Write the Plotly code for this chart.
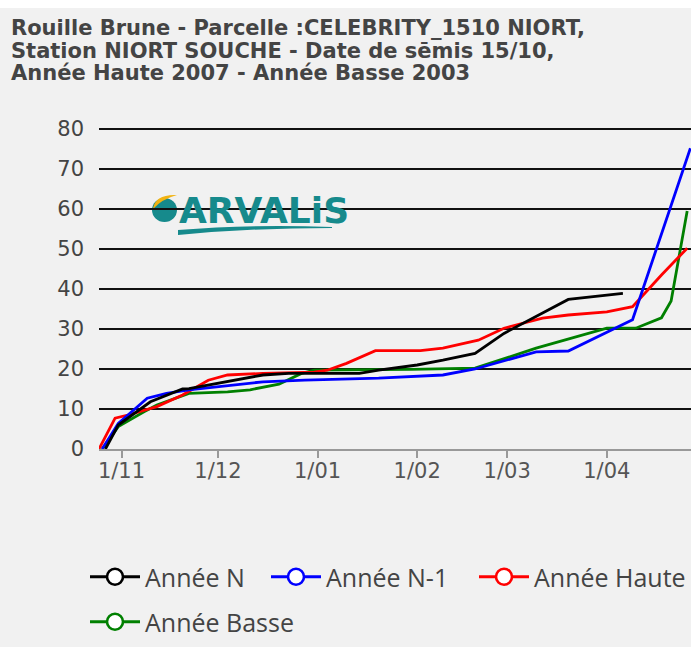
import plotly.graph_objects as go

# ---------------- data ----------------
series_names = ["Année N", "Année N-1", "Année Haute", "Année Basse"]
series_colors = ["#000000", "#0000ff", "#ff0000", "#008000"]

n_dates = ["2022-10-27", "2022-10-31", "2022-11-10", "2022-11-20", "2022-11-22", "2022-12-02",
           "2022-12-15", "2022-12-23", "2023-01-14", "2023-01-20", "2023-02-01", "2023-02-09",
           "2023-02-19", "2023-02-28", "2023-03-20", "2023-04-06"]
n_values = [0, 6, 11.8, 15.0, 15.1, 16.6, 18.5, 18.9, 18.9, 19.7, 21.0, 22.2, 23.9, 28.9, 37.4, 38.9]

n1_dates = ["2022-10-26", "2022-10-31", "2022-11-09", "2022-11-15", "2022-11-22", "2022-12-02",
            "2022-12-15", "2022-12-28", "2023-01-20", "2023-02-09", "2023-02-19", "2023-03-10",
            "2023-03-20", "2023-04-09", "2023-04-27"]
n1_values = [0, 6.4, 12.7, 13.9, 14.8, 15.6, 16.8, 17.2, 17.7, 18.5, 20.0, 24.3, 24.5, 32.3, 75.2]

haute_dates = ["2022-10-25", "2022-10-30", "2022-11-03", "2022-11-12", "2022-11-20", "2022-11-28",
               "2022-12-04", "2022-12-15", "2022-12-31", "2023-01-04", "2023-01-10", "2023-01-19",
               "2023-02-02", "2023-02-09", "2023-02-20", "2023-02-28", "2023-03-12", "2023-03-20",
               "2023-04-01", "2023-04-09", "2023-04-18", "2023-04-26"]
haute_values = [0, 7.7, 8.5, 10.6, 13.5, 17.2, 18.5, 18.9, 19.2, 19.7, 21.4, 24.6,
                24.6, 25.2, 27.2, 30.2, 32.7, 33.5, 34.3, 35.6, 43.5, 50.2]

basse_dates = ["2022-10-26", "2022-10-31", "2022-11-08", "2022-11-12", "2022-11-22", "2022-12-04",
               "2022-12-11", "2022-12-20", "2022-12-27", "2022-12-31", "2023-01-30", "2023-02-19",
               "2023-03-10", "2023-04-01", "2023-04-10", "2023-04-18", "2023-04-21", "2023-04-26"]
basse_values = [0, 5.6, 9.3, 11.0, 13.9, 14.3, 14.8, 16.2, 18.9, 19.7, 19.9, 20.2,
                25.2, 30.2, 30.2, 32.8, 37.0, 59.5]

tick_dates = ["2022-11-01", "2022-12-01", "2023-01-01", "2023-02-01", "2023-03-01", "2023-04-01"]
tick_labels = ["1/11", "1/12", "1/01", "1/02", "1/03", "1/04"]
y_ticks = [0, 10, 20, 30, 40, 50, 60, 70, 80]

title_lines = ["Rouille Brune - Parcelle :CELEBRITY_1510 NIORT,",
               "Station NIORT SOUCHE - Date de sēmis 15/10,",
               "Année Haute 2007 - Année Basse 2003"]

# ---------------- layout geometry ----------------
# page has an 8px white band on top (body margin), figure below it
TOP = 8
W, H = 691, 639
ML, MR, MB = 99, 0, 198
PH = 322
MT = H - MB - PH
PW = W - ML - MR
Y0_SCREEN = TOP + H - MB  # screen y of the plot bottom


def px(x):
    return (x - ML) / PW


def py(y):
    return (Y0_SCREEN - y) / PH


FONT = "Open Sans"
WIDE = "DejaVu Sans"
TEAL = "#168a8c"

fig = go.Figure()

all_x = [n_dates, n1_dates, haute_dates, basse_dates]
all_y = [n_values, n1_values, haute_values, basse_values]

# plotted lines (draw order: Basse, Haute, N-1, N)
for i in [3, 2, 1, 0]:
    fig.add_trace(go.Scatter(x=all_x[i], y=all_y[i], mode="lines",
                             line=dict(color=series_colors[i], width=2.8),
                             showlegend=False, hoverinfo="skip"))

# legend entries
legend_ids = ["legend", "legend2", "legend3", "legend4"]
for i in range(4):
    fig.add_trace(go.Scatter(x=[None], y=[None], mode="lines+markers", name=series_names[i],
                             line=dict(color=series_colors[i], width=2.8),
                             marker=dict(size=16, color="white",
                                         line=dict(color=series_colors[i], width=2.6)),
                             legend=legend_ids[i]))

leg_common = dict(font=dict(family=FONT, size=25, color="#444444"), bgcolor="rgba(0,0,0,0)",
                  borderwidth=0, itemwidth=50, xanchor="left", yanchor="middle",
                  orientation="h", itemclick=False, itemdoubleclick=False)
leg_pos = [(85, 577), (266, 577), (474, 577), (85, 622)]

layout_legends = {}
for lid, (lx, ly) in zip(legend_ids, leg_pos):
    layout_legends[lid] = dict(x=px(lx), y=py(ly), **leg_common)

annotations = []
title_y = [28, 50.5, 73]
for t, ty in zip(title_lines, title_y):
    annotations.append(dict(text=t, xref="paper", yref="paper", x=px(9), y=py(ty),
                            xanchor="left", yanchor="middle", showarrow=False,
                            font=dict(family=WIDE, size=21, color="#444444", weight=700)))

annotations.append(dict(text="ARVALiS", xref="paper", yref="paper", x=px(177), y=py(210),
                        xanchor="left", yanchor="middle", showarrow=False,
                        font=dict(family=WIDE, size=36, color=TEAL, weight=700)))

shapes = [
    # logo leaf
    dict(type="circle", xref="paper", yref="paper", x0=px(152), x1=px(177), y0=py(222), y1=py(198),
         fillcolor=TEAL, line=dict(width=0), layer="below"),
    dict(type="path", xref="paper", yref="paper",
         path="M {} {} Q {} {} {} {} Q {} {} {} {} Z".format(
             px(153), py(209), px(155), py(194), px(177), py(195),
             px(162), py(199), px(153), py(209)),
         fillcolor="#f2b311", line=dict(width=0), layer="below"),
    # logo swoosh
    dict(type="path", xref="paper", yref="paper",
         path="M {} {} Q {} {} {} {} L {} {} Q {} {} {} {} Z".format(
             px(178), py(230), px(250), py(224), px(332), py(227),
             px(332), py(228), px(250), py(228), px(178), py(235)),
         fillcolor=TEAL, line=dict(width=0), layer="below"),
]

fig.update_layout(
    width=W, height=H,
    margin=dict(l=ML, r=MR, t=MT, b=MB, pad=0, autoexpand=False),
    paper_bgcolor="#f1f1f1", plot_bgcolor="#f1f1f1",
    font=dict(family=FONT, color="#444444"),
    xaxis=dict(type="date", range=["2022-10-25", "2023-04-27 04:30"],
               tickvals=tick_dates, ticktext=tick_labels,
               showgrid=False, zeroline=False, showline=True, linecolor="#999999", linewidth=1.5,
               ticks="outside", ticklen=7, tickcolor="#999999", tickwidth=1.5,
               ticklabelstandoff=-5,
               tickfont=dict(family=WIDE, size=21, color="#555555")),
    yaxis=dict(range=[0, 80.5], tickvals=y_ticks, showgrid=True, gridcolor="#111111", gridwidth=1.6,
               zeroline=False, showline=False, ticks="", ticklabelstandoff=14,
               tickfont=dict(family=WIDE, size=21, color="#444444")),
    annotations=annotations, shapes=shapes,
    hovermode=False,
    **layout_legends,
)

fig.write_html("out.html",
               post_script="document.body.style.margin='8px 0 0 0';"
                           "document.body.style.overflow='hidden';")
